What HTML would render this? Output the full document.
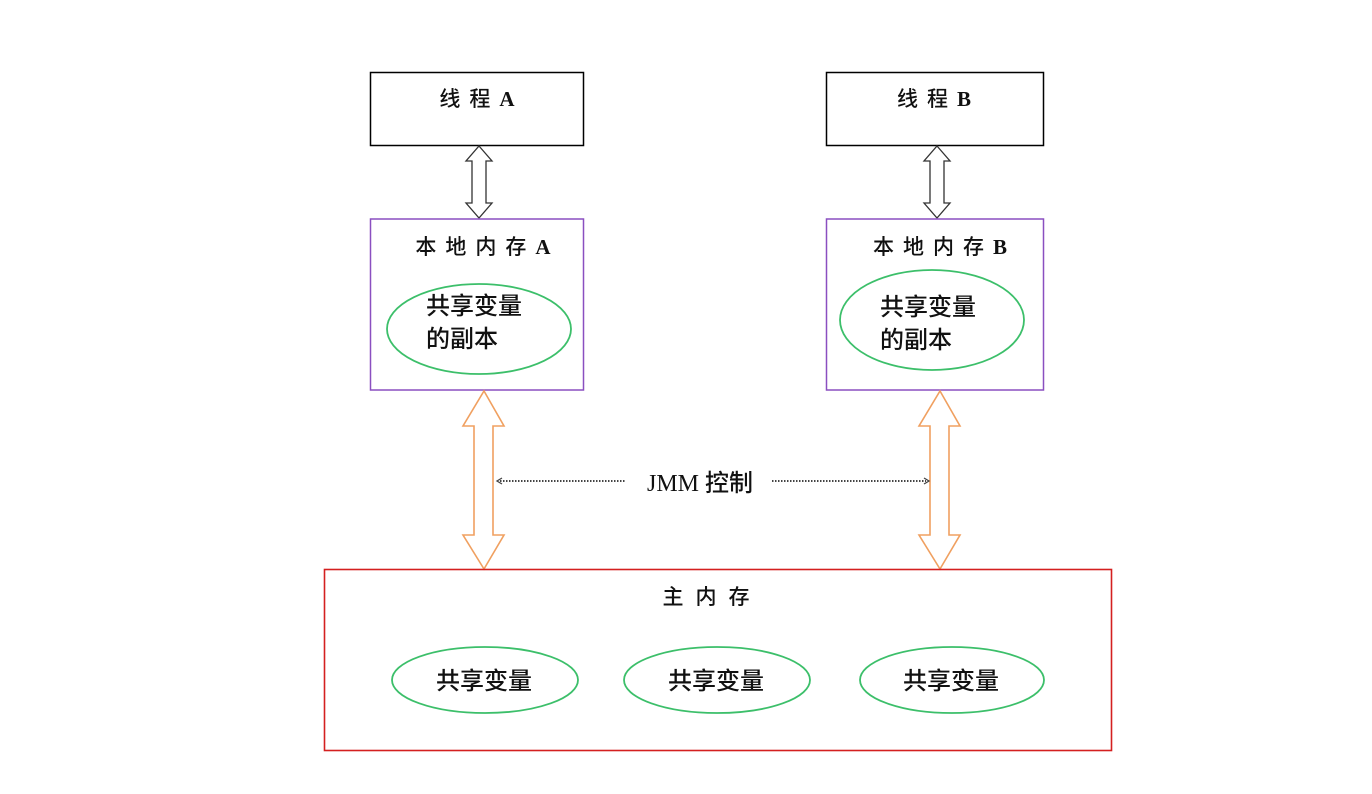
<!DOCTYPE html>
<html><head><meta charset="utf-8"><style>
html,body{margin:0;padding:0;background:#fff;}
svg{display:block;}
text{font-family:"Liberation Serif","Noto Sans CJK SC",sans-serif;fill:#111;}
.c{font-family:"Noto Sans CJK SC","WenQuanYi Zen Hei",sans-serif;font-weight:500;}
</style></head><body>
<svg width="1372" height="794" viewBox="0 0 1372 794" xmlns="http://www.w3.org/2000/svg">
<rect x="370.5" y="72.5" width="213" height="73" fill="#fff" stroke="#000" stroke-width="1.5"/>
<rect x="826.5" y="72.5" width="217" height="73" fill="#fff" stroke="#000" stroke-width="1.5"/>
<text x="477" y="106" font-size="21" text-anchor="middle"><tspan class="c" letter-spacing="9">线程</tspan><tspan font-weight="bold">A</tspan></text>
<text x="934" y="106" font-size="21" text-anchor="middle"><tspan class="c" letter-spacing="9">线程</tspan><tspan font-weight="bold">B</tspan></text>

<polygon points="479,146 492,161 486,161 486,203 492,203 479,218 466,203 472,203 472,161 466,161" fill="#fff" stroke="#333" stroke-width="1.3"/>
<polygon points="937,146 950,161 944,161 944,203 950,203 937,218 924,203 930,203 930,161 924,161" fill="#fff" stroke="#333" stroke-width="1.3"/>

<rect x="370.5" y="219" width="213" height="171" fill="#fff" stroke="#8a4fc0" stroke-width="1.5"/>
<rect x="826.5" y="219" width="217" height="171" fill="#fff" stroke="#8a4fc0" stroke-width="1.5"/>
<text x="483" y="254" font-size="21" text-anchor="middle"><tspan class="c" letter-spacing="9">本地内存</tspan><tspan font-weight="bold">A</tspan></text>
<text x="940" y="254" font-size="21" text-anchor="middle"><tspan class="c" letter-spacing="9">本地内存</tspan><tspan font-weight="bold">B</tspan></text>

<ellipse cx="479" cy="329" rx="92" ry="45" fill="none" stroke="#3cbf6a" stroke-width="1.8"/>
<ellipse cx="932" cy="320" rx="92" ry="50" fill="none" stroke="#3cbf6a" stroke-width="1.8"/>
<text class="c" x="426" y="314" font-size="24">共享变量</text>
<text class="c" x="426" y="347" font-size="24">的副本</text>
<text class="c" x="880" y="315" font-size="24">共享变量</text>
<text class="c" x="880" y="348" font-size="24">的副本</text>

<polygon points="484,391 504,426 493,426 493,535 504,535 484,569 463,535 474,535 474,426 463,426" fill="#fff" stroke="#f0a060" stroke-width="1.6"/>
<polygon points="940,391 960,426 949,426 949,535 960,535 940,569 919,535 930,535 930,426 919,426" fill="#fff" stroke="#f0a060" stroke-width="1.6"/>

<line x1="500" y1="481" x2="625" y2="481" stroke="#444" stroke-width="2" stroke-dasharray="1.5,1.5"/>
<line x1="772" y1="481" x2="926" y2="481" stroke="#444" stroke-width="2" stroke-dasharray="1.5,1.5"/>
<polyline points="502,478 497,481 502,484" fill="none" stroke="#444" stroke-width="1.3"/>
<polyline points="924,478 929,481 924,484" fill="none" stroke="#444" stroke-width="1.3"/>
<text x="700" y="491" font-size="24" text-anchor="middle">JMM <tspan class="c">控制</tspan></text>

<rect x="324.5" y="569.5" width="787" height="181" fill="none" stroke="#d42020" stroke-width="1.6"/>
<text class="c" x="712" y="604" font-size="21" text-anchor="middle" letter-spacing="12">主内存</text>
<ellipse cx="485" cy="680" rx="93" ry="33" fill="none" stroke="#3cbf6a" stroke-width="1.8"/>
<ellipse cx="717" cy="680" rx="93" ry="33" fill="none" stroke="#3cbf6a" stroke-width="1.8"/>
<ellipse cx="952" cy="680" rx="92" ry="33" fill="none" stroke="#3cbf6a" stroke-width="1.8"/>
<text class="c" x="484" y="689" font-size="24" text-anchor="middle">共享变量</text>
<text class="c" x="716" y="689" font-size="24" text-anchor="middle">共享变量</text>
<text class="c" x="951" y="689" font-size="24" text-anchor="middle">共享变量</text>
</svg>
</body></html>
